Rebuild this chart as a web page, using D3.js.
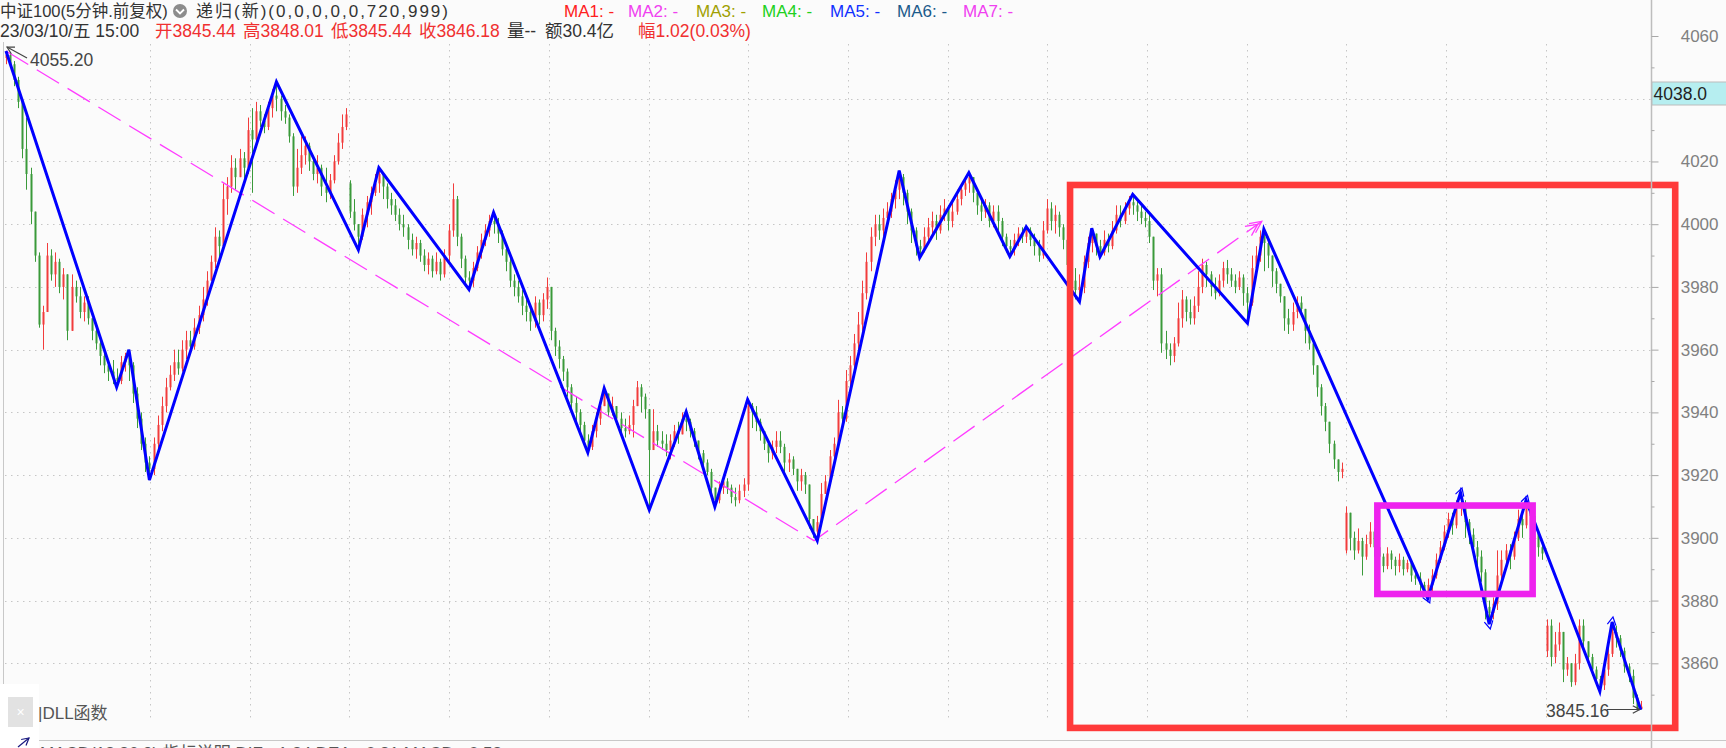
<!DOCTYPE html>
<html><head><meta charset="utf-8">
<script src="https://cdn.jsdelivr.net/npm/d3@7/dist/d3.min.js"></script>
<style>
html,body{margin:0;padding:0;background:#fbfbfb;overflow:hidden}
svg{display:block}
text{font-family:"Liberation Sans",Arial,"Noto Sans CJK SC",sans-serif}
</style></head><body>
<svg id="c" width="1726" height="748"></svg>
<script>
// ---- data ----
const closes=[4054,4051,4046,4039,4024,4016,4004,3990,3968,3972,
3990,3984,3988,3980,3984,3966,3980,3977,3972,3975,
3970,3966,3962,3958,3955,3953,3951,3950,3956,3958,
3955,3946,3938,3930,3924,3922,3930,3936,3942,3948,
3952,3956,3954,3960,3963,3961,3967,3971,3976,3982,
3988,3996,3993,4008,4012,4018,4015,4021,4018,4030,
4027,4036,4033,4031,4037,4041,4040,4036,4034,4028,
4012,4018,4022,4025,4020,4016,4018,4012,4010,4014,
4020,4026,4031,4035,4004,4000,3996,4003,4007,4010,
4013,4016,4012,4008,4006,4003,4000,3999,3995,3992,
3994,3990,3987,3989,3985,3988,3984,3990,3998,4008,
3996,3989,3983,3982,3986,3991,3995,3998,4001,4000,
3997,3992,3988,3982,3980,3977,3974,3972,3969,3975,
3971,3976,3980,3966,3961,3957,3953,3948,3943,3940,
3936,3931,3929,3934,3938,3942,3946,3940,3942,3938,
3935,3934,3936,3942,3948,3945,3941,3928,3934,3931,
3930,3928,3931,3934,3933,3938,3937,3934,3931,3927,
3924,3921,3916,3912,3916,3918,3916,3913,3912,3915,
3917,3942,3940,3937,3934,3930,3927,3929,3931,3929,
3924,3925,3922,3918,3920,3917,3906,3902,3905,3914,
3918,3926,3930,3940,3938,3950,3955,3962,3968,3978,
3988,3996,4000,3998,4002,4004,4008,4011,4015,4010,
4004,3998,3993,3992,3996,3999,4001,3998,4003,4005,
4001,4004,4008,4011,4013,4015,4010,4006,4004,4006,
4001,4004,4001,3996,3993,3992,3995,3997,3996,3998,
3995,3993,3990,3998,4005,4001,4003,3999,3995,3987,
3982,3979,3980,3988,3994,3997,3993,3991,3995,3993,
3998,4003,4001,4005,4007,4006,4004,4002,4001,3996,
3982,3984,3962,3960,3958,3962,3970,3976,3972,3970,
3974,3980,3987,3984,3980,3978,3982,3986,3984,3982,
3980,3983,3978,3975,3986,3990,3996,3994,3990,3985,
3981,3977,3970,3968,3972,3975,3973,3966,3962,3955,
3948,3942,3937,3930,3925,3921,3922,3908,3900,3896,
3899,3894,3898,3902,3897,3894,3891,3895,3893,3891,
3893,3890,3892,3888,3887,3885,3883,3885,3888,3893,
3897,3902,3906,3904,3910,3911,3905,3901,3897,3894,
3889,3878,3876,3879,3888,3893,3896,3894,3900,3906,
3904,3910,3907,3902,3897,3895,3872,3862,3866,3870,
3858,3860,3854,3860,3872,3867,3862,3858,3855,3853,
3858,3863,3870,3868,3864,3859,3856,3849,3845.44,3846.18];
const highs=[4055.2,4054.6,4052,4047,4040,4034,4018,4003,3991,3974,
3994,3992,3991,3989,3986,3984,3984,3982,3980,3977,
3977,3970,3968,3963,3960,3956,3956.7,3954,3958,3959,
3960,3956,3948,3940,3932,3926,3932,3939,3945,3951,
3955,3960,3960,3963,3966,3966,3970,3974,3980,3985,
3990,3999,3998,4013,4015,4022,4021,4024,4023,4034,
4037,4039,4038,4035,4039,4043,4045.4,4041,4038,4035,
4029,4024,4028,4028,4026,4021,4022,4019,4018,4016,
4022,4029,4035,4037,4014,4008,3999,4005,4009,4012,
4016,4018,4016,4013,4010,4008,4005,4003,4000,3997,
3996,3995,3992,3991,3990,3991,3989,3992,4000,4013,
4009,3997,3990,3985,3988,3993,3997,4000,4003,4003.7,
4002,3998,3993,3989,3984,3982,3979,3976,3974,3977,
3976,3978,3983,3979,3967,3963,3958,3954,3949,3945,
3941,3937,3933,3936,3940,3944,3947.7,3946,3945,3942,
3940,3938,3939,3944,3950,3949,3946,3941,3941,3936,
3934,3933,3933,3936,3937,3940,3940.2,3938,3935,3931,
3928,3925,3922,3916,3918,3919,3919,3917,3916,3917,
3919,3944.1,3943,3942,3938,3934,3931,3931,3934,3934,
3930,3927,3926,3922,3922,3921,3910,3906,3907,3917.5,
3920,3928,3932,3944,3942,3953.5,3958,3965,3972,3982,
3991,3999,4003,4003,4005,4007,4010,4014,4017.1,4016,
4011,4005,3999,3995,3999,4002,4004,4003,4006,4008,
4006,4007,4011,4013,4015,4016.4,4015,4011,4008,4008,
4007,4006,4006,4002,3997,3995,3997,3999,3999,3999.2,
3999,3997,3995,4001,4008,4007,4006,4004,4000,3996,
3990,3986,3984,3990,3996,3998.7,3997,3995,3998,3997,
4001,4006,4006,4007,4009,4009.5,4008,4006,4004,4004,
3992,3986,3986,3966,3962,3964,3975,3979,3977,3976,
3977,3985,3989,3988,3985,3983,3984,3988,3988.6,3986,
3984,3985,3984,3980,3990,3993,3998,3998.4,3996,3990,
3986,3981,3977,3973,3975,3977,3977,3971,3968,3961,
3955,3949,3943,3937,3931,3925,3924,3910,3904,3902,
3903,3900,3901,3905,3903,3898,3895,3897,3896,3894,
3895,3894,3893,3893,3890,3889,3886,3887,3890,3895,
3899,3904,3908,3908,3912,3914.4,3912,3906,3903,3899,
3896,3890,3880,3881,3896,3896,3898,3898,3902,3909,
3907,3912,3911,3908,3902,3899,3874,3874,3870,3873,
3866,3862,3858,3863,3874,3874,3866,3863,3859,3856,
3860,3865,3873.2,3872,3869,3865,3860,3858,3850,3848.01];
const lows=[4051,4050,4044,4037,4021,4011,4000,3988,3967,3960,
3972,3982,3980,3978,3976,3963,3966,3975,3970,3969,
3968,3963,3960,3955,3952.5,3950,3949,3948,3949,3953,
3950,3943,3935,3928,3921,3918.4,3920,3928,3934,3940,
3947,3950,3952,3953,3957,3959,3960,3965,3969,3974,
3982,3986,3988,3993,4003,4010,4011,4015,4014,4016,
4010,4026,4031,4029,4030,4034,4036,4033,4032,4026,
4009,4010,4016,4019,4017,4014,4013,4009,4007,4008,
4013,4019,4024,4030,4002,3998,3991.8,3995,3999,4003,
4009,4010,4008,4005,4003,4001,3998,3996,3992,3990,
3989,3988,3985,3984,3983,3984,3982,3983,3988,3996,
3993,3986,3981,3979.2,3980,3985,3989,3993,3996,3997,
3994,3990,3985,3980,3977,3975,3971,3969,3966,3967,
3968,3969,3973,3963,3958,3954,3950,3945,3941,3937,
3933,3929,3927.2,3928,3932,3936,3942,3938.5,3939,3936,
3933,3932,3933,3932,3943,3940,3938,3908.9,3930,3929,
3928,3926,3925,3929,3930,3933,3934,3932,3929,3925,
3921,3920,3914,3909.9,3911,3914,3914,3911,3910,3911,
3913,3915,3935,3934,3931,3928,3924,3925,3927,3927,
3921,3921,3920,3915,3915,3914,3903,3900,3899.1,3904,
3914,3918,3924,3930,3935,3937,3948,3953,3960,3966,
3976,3985,3993,3995,3996,3999,4002,4005,4008,4006,
4000,3994,3990,3989.3,3991,3994,3996,3995,3997,4001,
3998,3999,4003,4006,4009,4010,4007,4003,4001,4002,
3999,3999,3998,3993,3991,3989.7,3990,3993,3994,3994,
3993,3990,3988,3989,3997,3998,3997,3996,3992,3984,
3979,3976,3975.3,3978,3986,3991,3990,3989.6,3990,3991,
3992,3997,3999,4000,4003,4003,4001,4000,3999,3994,
3979,3977,3959,3957,3955,3956,3961,3967,3969,3968,
3968,3972,3978,3980,3977,3976,3977,3980,3981,3980,
3978,3979,3974,3968.4,3974,3984,3988,3985,3986,3980,
3978,3975,3966,3965,3966,3970,3971,3962,3960,3952,
3945,3939,3934,3927,3922,3918,3919,3895,3896,3893,
3895,3888,3893,3897,3894,3891,3889,3890,3890,3888,
3889,3888,3889,3886,3885,3883,3882,3880.7,3883,3887,
3892,3896,3900,3901,3903,3907,3900,3898,3895,3891,
3886,3874,3872.5,3874,3877,3886,3890,3890,3893,3899,
3900,3903,3903,3900,3894,3893,3862,3859,3860,3864,
3854,3856,3852.5,3853,3858,3865,3860,3856,3853,3851,
3851.5,3856,3862,3865,3862,3857,3854,3847,3845.16,3845.44];
// bars whose open is not the previous close (session gaps)
const gapIdx=[0,84,327,376];
const gapOpen=[4053,4013,3896,3864];
// blue "递归" zigzag: bar index and price of each turning point
const zzIdx=[0,27,30,35,66,86,91,113,119,142,146,157,166,173,181,198,218,223,235,245,249,262,265,267,275,303,307,347,355,362,371,389,392,399];
const zzVal=[4055.2,3948,3960,3918.4,4045.4,3991.8,4018,3979.2,4003.7,3927.2,3947.7,3908.9,3940.2,3909.9,3944.1,3899.1,4017.1,3989.3,4016.4,3989.7,3999.2,3975.3,3998.7,3989.6,4009.5,3968.4,3998.4,3880.7,3914.4,3872.5,3912,3851,3873.2,3845.16];
// turning points that carry a small arrow tip
const zzArrowIdx=[347,355,362,371,392];
// magenta dashed trend line
const trendIdx=[0,197.2,306.5];
const trendVal=[4055.2,3899.1,4000.9];
// annotation boxes (bar index range, price range)
const redBoxIdx=[259.7,407.4], redBoxVal=[4012.5,3839.4];
const pinkBoxIdx=[334.7,372.6], pinkBoxVal=[3910.3,3882.1];
// axis
const yLabelVals=[4060,4020,4000,3980,3960,3940,3920,3900,3880,3860];
const yMinorVals=[4050,4040,4030,4010,3990,3970,3950,3930,3910,3890,3870,3850];
const gridVals=[4040,4020,4000,3980,3960,3940,3920,3900,3880,3860];
const priceTag=4038.0;
const hiLabel="4055.20", loLabel="3845.16";
const maNames=["MA1: -","MA2: -","MA3: -","MA4: -","MA5: -","MA6: -","MA7: -"];
const maColors=["#ff2020","#f040f0","#a0a000","#20d020","#1030ff","#1a5a8a","#f040f0"];
const quote=[["23/03/10/五 15:00",'#333'],["开3845.44",'#f03030'],["高3848.01",'#f03030'],["低3845.44",'#f03030'],["收3846.18",'#f03030'],["量--",'#333'],["额30.4亿",'#333'],["幅1.02(0.03%)",'#f03030']];

// ---- drawing ----
const W=1726,H=748;
const svg=d3.select('#c');
svg.append('rect').attr('width',W).attr('height',H).attr('fill','#fbfbfb');
const x=d3.scaleLinear().domain([0,closes.length-1]).range([6,1640.8]);
const y=d3.scaleLinear().domain([3860,4060]).range([663.3,36]);
const AX=1651.5;

// grid
const grid=svg.append('g').attr('stroke','#c6c6c6').attr('stroke-width',1).attr('stroke-dasharray','1.5,4.5');
gridVals.forEach(v=>{const yy=Math.round(y(v))+0.5;grid.append('line').attr('x1',5).attr('x2',AX-1).attr('y1',yy).attr('y2',yy);});
for(let k=0;k<15;k++){const gx=Math.round(150+99.7*k)+0.5;grid.append('line').attr('x1',gx).attr('x2',gx).attr('y1',44).attr('y2',720);}
svg.append('line').attr('x1',3.5).attr('x2',3.5).attr('y1',42).attr('y2',741).attr('stroke','#c8c8c8');

// candles
const bars=closes.map((c,i)=>{const gi=gapIdx.indexOf(i);const o=gi>=0?gapOpen[gi]:closes[i-1];
 return {i,o,c,h:Math.max(highs[i],o,c),l:Math.min(lows[i],o,c)};});
const cg=svg.append('g');
bars.forEach(b=>{
 const col=b.c>=b.o?'#f23c3c':'#3a9a3a';
 const cx=Math.round(x(b.i));
 cg.append('line').attr('x1',cx+0.5).attr('x2',cx+0.5).attr('y1',y(b.h)).attr('y2',y(b.l)).attr('stroke',col).attr('stroke-width',1);
 const top=y(Math.max(b.o,b.c)),bot=y(Math.min(b.o,b.c));
 cg.append('rect').attr('x',cx-0.5).attr('y',top).attr('width',2).attr('height',Math.max(1,bot-top)).attr('fill',col);
});

// magenta dashed trend
const tpts=trendIdx.map((d,i)=>[x(d),y(trendVal[i])]);
svg.append('path').attr('d',d3.line()(tpts)).attr('fill','none').attr('stroke','#ff3cff').attr('stroke-width',1.3).attr('stroke-dasharray','26,10');
function chevron(tip,ang,len,spread,col,w){
 const p=[[tip[0]-len*Math.cos(ang-spread),tip[1]-len*Math.sin(ang-spread)],tip,[tip[0]-len*Math.cos(ang+spread),tip[1]-len*Math.sin(ang+spread)]];
 svg.append('path').attr('d',d3.line()(p)).attr('fill','none').attr('stroke',col).attr('stroke-width',w);}
{const a=tpts[tpts.length-2],b=tpts[tpts.length-1];const ang=Math.atan2(b[1]-a[1],b[0]-a[0]);
 [0,5].forEach(off=>chevron([b[0]-off*Math.cos(ang),b[1]-off*Math.sin(ang)],ang,13,0.45,'#ff3cff',1.3));}

// blue zigzag
const zpts=zzIdx.map((d,i)=>[x(d),y(zzVal[i])]);
svg.append('path').attr('d',d3.line()(zpts)).attr('fill','none').attr('stroke','#0000ff').attr('stroke-width',3).attr('stroke-linejoin','miter');
zzArrowIdx.forEach(ix=>{const k=zzIdx.indexOf(ix);const a=zpts[k-1],b=zpts[k];const ang=Math.atan2(b[1]-a[1],b[0]-a[0]);
 const tip=[b[0]+5*Math.cos(ang),b[1]+5*Math.sin(ang)];chevron(tip,ang,9,0.5,'#0000ff',1.2);});

// annotation boxes
svg.append('rect').attr('x',x(redBoxIdx[0])).attr('y',y(redBoxVal[0])).attr('width',x(redBoxIdx[1])-x(redBoxIdx[0])).attr('height',y(redBoxVal[1])-y(redBoxVal[0]))
 .attr('fill','none').attr('stroke','#ff3a3a').attr('stroke-width',6.6);
svg.append('rect').attr('x',x(pinkBoxIdx[0])).attr('y',y(pinkBoxVal[0])).attr('width',x(pinkBoxIdx[1])-x(pinkBoxIdx[0])).attr('height',y(pinkBoxVal[1])-y(pinkBoxVal[0]))
 .attr('fill','none').attr('stroke','#ee22ee').attr('stroke-width',6.6);

// high / low labels with arrows
function arrow(x1,y1,x2,y2,col){svg.append('line').attr('x1',x1).attr('y1',y1).attr('x2',x2).attr('y2',y2).attr('stroke',col).attr('stroke-width',1.2);
 chevron([x2,y2],Math.atan2(y2-y1,x2-x1),8,0.5,col,1.2);}
arrow(27,58,x(0)+1,y(4055.2)-4,'#444');
svg.append('text').attr('x',30).attr('y',66).attr('font-size',17.5).attr('fill','#444').text(hiLabel);
svg.append('text').attr('x',1546).attr('y',717).attr('font-size',17.5).attr('fill','#444').text(loLabel);
arrow(1607,709.5,x(399)-1,709.5,'#444');

// right axis
svg.append('line').attr('x1',AX).attr('x2',AX).attr('y1',0).attr('y2',H).attr('stroke','#bdbdbd').attr('stroke-width',1.5);
const ax=svg.append('g').attr('transform',`translate(${AX},0)`).call(d3.axisRight(y).tickValues(yLabelVals).tickSize(7).tickFormat(d3.format('d')));
ax.select('.domain').remove();
ax.selectAll('line').attr('stroke','#a8a8a8');
ax.selectAll('text').attr('x',67).attr('text-anchor','end').attr('fill','#808080').attr('font-size',17).attr('font-family','"Liberation Sans",Arial,sans-serif');
const axm=svg.append('g').attr('transform',`translate(${AX},0)`).call(d3.axisRight(y).tickValues(yMinorVals).tickSize(3).tickFormat(''));
axm.select('.domain').remove();axm.selectAll('line').attr('stroke','#a8a8a8');
svg.append('rect').attr('x',AX+0.5).attr('y',y(priceTag)-23).attr('width',W-AX).attr('height',23).attr('fill','#b6eef0').attr('stroke','#bcbcbc').attr('stroke-width',1);
svg.append('text').attr('x',AX+2).attr('y',y(priceTag)-5).attr('font-size',17.5).attr('fill','#222').text(priceTag.toFixed(1));

// header
const hd=svg.append('g');
hd.append('text').attr('x',0).attr('y',17).attr('font-size',16.5).attr('fill','#333').text('中证100(5分钟.前复权)');
hd.append('circle').attr('cx',180).attr('cy',11).attr('r',7).attr('fill','#8c8c8c');
hd.append('path').attr('d','M176,9.5 L180,13.5 L184,9.5').attr('fill','none').attr('stroke','#fff').attr('stroke-width',1.8);
hd.append('text').attr('x',196).attr('y',17).attr('font-size',17).attr('fill','#333').attr('textLength',252).attr('lengthAdjust','spacing').text('递归(新)(0,0,0,0,0,720,999)');
const maX=[564,628,696,762,830,897,963];
maNames.forEach((n,i)=>hd.append('text').attr('x',maX[i]).attr('y',17).attr('font-size',17).attr('fill',maColors[i]).text(n));
const quoteX=[0,155,243,331,419,507,545,638];
quote.forEach((d,i)=>hd.append('text').attr('x',quoteX[i]).attr('y',37).attr('font-size',17.5).attr('fill',d[1]).text(d[0]));

// bottom-left widget
svg.append('line').attr('x1',0).attr('x2',W).attr('y1',740.5).attr('y2',740.5).attr('stroke','#c8c8c8');
svg.append('rect').attr('x',0).attr('y',684).attr('width',39).attr('height',64).attr('fill','#ffffff');
svg.append('rect').attr('x',8).attr('y',697).attr('width',25).attr('height',30).attr('fill','#e2e2e2');
svg.append('text').attr('x',20.5).attr('y',717).attr('text-anchor','middle').attr('font-size',14).attr('fill','#fff').text('×');
svg.append('text').attr('x',38).attr('y',719).attr('font-size',17).attr('fill','#555').text('|DLL函数');
svg.append('text').attr('x',40).attr('y',759).attr('font-size',17).attr('fill','#555').text('MACD(12,26,9) 指标说明 DIF: -1.34  DEA: -0.81  MACD: -0.53');
arrow(18,747,29,738,'#1a1a80');
</script></body></html>
